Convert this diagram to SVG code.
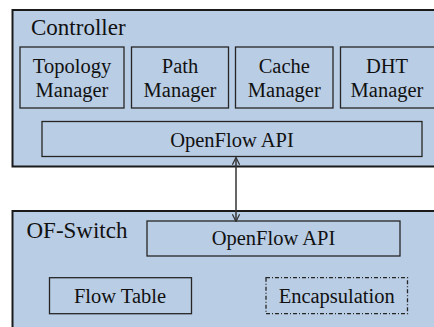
<svg xmlns="http://www.w3.org/2000/svg" width="434" height="327" viewBox="0 0 434 327">
  <style>
    .outer { fill: #b9cde5; stroke: #1a1a1a; stroke-width: 2; }
    .box { fill: #b9cde5; stroke: #262626; stroke-width: 1.3; }
    .dash { fill: #b9cde5; stroke: #262626; stroke-width: 1.3; stroke-dasharray: 4 2 1 2; }
    .title { font-family: "Liberation Serif", "Times New Roman", serif; font-size: 23px; fill: #111; }
    .lbl { font-family: "Liberation Serif", "Times New Roman", serif; font-size: 20.5px; text-anchor: middle; fill: #111; }
    .conn { stroke: #333; stroke-width: 1.5; fill: none; }
  </style>
  <defs>
    <marker id="head" viewBox="0 0 10 10" refX="9" refY="5" markerWidth="9" markerHeight="9" markerUnits="userSpaceOnUse" orient="auto-start-reverse">
      <path d="M1,1 L9,5 L1,9" fill="none" stroke="#333" stroke-width="1.4"/>
    </marker>
  </defs>
  <rect width="434" height="327" fill="#ffffff"/>

  <!-- controller side -->
  <g id="controller">
    <rect class="outer" x="12.5" y="10" width="430" height="156.5"/>
    <text class="title" x="31" y="35">Controller</text>
  </g>
  <g id="topology-manager">
    <rect class="box" x="20" y="47" width="104" height="61"/>
    <text class="lbl" x="72" y="72.5">Topology</text>
    <text class="lbl" x="72" y="96.5">Manager</text>
  </g>
  <g id="path-manager">
    <rect class="box" x="131.5" y="47" width="97" height="61"/>
    <text class="lbl" x="180" y="72.5">Path</text>
    <text class="lbl" x="180" y="96.5">Manager</text>
  </g>
  <g id="cache-manager">
    <rect class="box" x="235.5" y="47" width="97.5" height="61"/>
    <text class="lbl" x="284.3" y="72.5">Cache</text>
    <text class="lbl" x="284.3" y="96.5">Manager</text>
  </g>
  <g id="dht-manager">
    <rect class="box" x="340.5" y="47" width="100" height="61"/>
    <text class="lbl" x="387" y="72.5">DHT</text>
    <text class="lbl" x="387" y="96.5">Manager</text>
  </g>
  <g id="controller-api">
    <rect class="box" x="42" y="121.5" width="380" height="35"/>
    <text class="lbl" x="232" y="146.5">OpenFlow API</text>
  </g>

  <!-- switch side -->
  <g id="of-switch">
    <rect class="outer" x="12.5" y="211" width="430" height="130"/>
    <text class="title" x="26.5" y="237.5">OF-Switch</text>
  </g>
  <g id="switch-api">
    <rect class="box" x="147" y="221" width="253" height="35"/>
    <text class="lbl" x="273.5" y="245">OpenFlow API</text>
  </g>
  <g id="flow-table">
    <rect class="box" x="49.5" y="277.7" width="142" height="36"/>
    <text class="lbl" x="120" y="303">Flow Table</text>
  </g>
  <g id="encapsulation">
    <rect class="dash" x="266" y="277.7" width="141.5" height="36"/>
    <text class="lbl" x="336.7" y="303">Encapsulation</text>
  </g>

  <g id="connectors">
    <line class="conn" x1="236" y1="157.5" x2="236" y2="221.5" marker-start="url(#head)" marker-end="url(#head)"/>
  </g>
</svg>
